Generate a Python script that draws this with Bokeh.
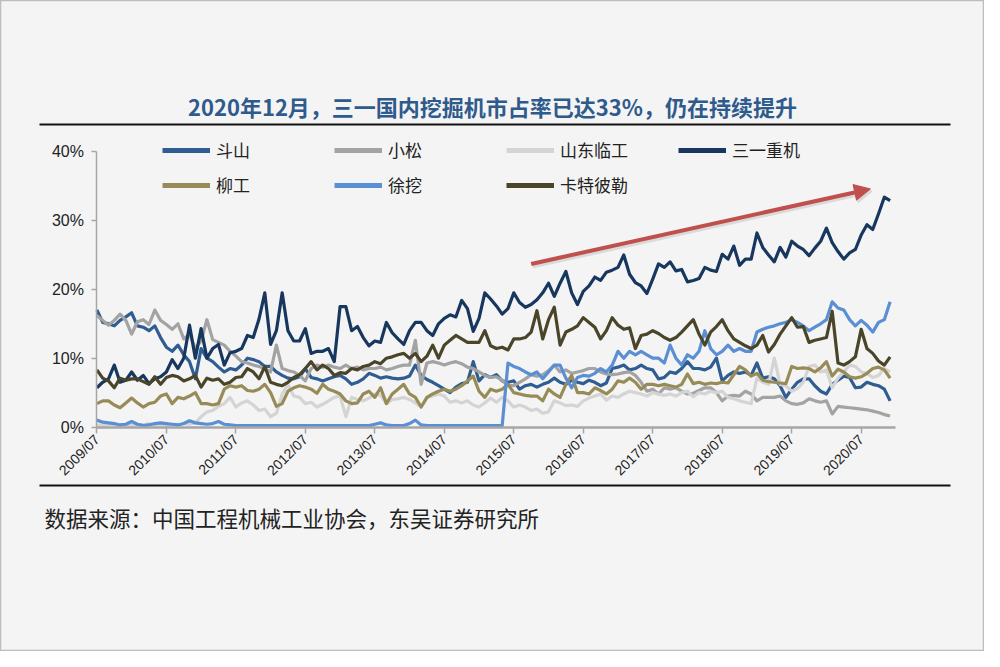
from bokeh.plotting import figure
from bokeh.models import Range1d, FixedTicker, Legend, LegendItem, Arrow, NormalHead, Label
from bokeh.embed import file_html
from bokeh.resources import INLINE

# ---------------- data (market share, %; monthly 2009/07 .. 2020/12) ----------------
names = ["斗山", "小松", "山东临工", "三一重机", "柳工", "徐挖", "卡特彼勒"]

doosan = [17, 15.2, 15, 14.7, 15.5, 16, 16.6, 14.7, 14.5, 14, 14.7, 13, 11.6, 11, 11.9, 10.5, 9.5, 7, 11.4, 10,
          9.5, 8.7, 8, 8.5, 8.3, 9, 10, 9.8, 9.5, 8.8, 8.8, 8, 7.5, 7.1, 7, 7.3, 8.5, 7.2, 7, 6.7,
          7, 7.3, 7.5, 7, 6.2, 6.5, 7, 7.8, 7.5, 7.1, 7.3, 7.1, 7, 7.1, 7.4, 9, 7.5, 6.9, 6.5, 6,
          5.5, 5, 5.8, 6.3, 6.5, 9.5, 6.7, 7.6, 7.2, 7.6, 6.7, 6.5, 6.7, 5.5, 6, 6.2, 5.8, 6.2, 6.5, 7.1,
          6.5, 6.2, 6.8, 6.5, 6.3, 6.8, 6.5, 6, 6.4, 8.5, 8.7, 9, 8.3, 8.5, 9, 8.5, 8.3, 7, 7.2, 8,
          7.8, 8.5, 9.5, 8.5, 8.5, 8.3, 8.7, 10, 6.7, 7.5, 8, 7.8, 8, 7.5, 9.3, 7.1, 7.3, 7, 6, 4.3,
          5.5, 6.5, 7, 7, 6, 5.2, 4.8, 6.2, 6.8, 7.4, 7.2, 5.7, 5.8, 6.5, 6.2, 6, 5.5, 3.8]

komatsu = [16.2, 15.5, 14.8, 15.5, 16.4, 15.5, 13.5, 15.3, 15.6, 14.9, 17, 15.5, 14.9, 14.2, 15, 12.8, 13.5, 11.4, 12.5, 15.6,
           12.7, 12.3, 11.9, 11, 10.3, 9.5, 9.3, 9, 8.8, 8.5, 8, 11.9, 8.5, 8.2, 8, 7.5, 6.7, 8.5, 9, 8.7,
           9, 8.7, 8.5, 9, 8.5, 8.7, 8.3, 8.5, 8.5, 8.7, 8.3, 8.5, 8.8, 9, 9, 12.6, 6.2, 9.3, 9.5, 9.3,
           9, 9.3, 9.5, 9.2, 8.7, 8.5, 8, 7.5, 7.2, 7.3, 6.8, 6, 6, 6.5, 7, 7.6, 7.4, 7.6, 8.2, 9,
           8, 8.3, 7.8, 8, 8.2, 8.5, 8.5, 8, 7.7, 7.6, 7.7, 7.9, 8, 7.5, 6.5, 5.2, 5.5, 4.8, 5.7, 5.5,
           5.7, 5.2, 4.8, 4.9, 5.3, 5.7, 5.7, 5, 3.8, 4.5, 4.6, 4.5, 5.2, 4.8, 3.8, 4.3, 4.3, 4.3, 4.5, 3.8,
           3.4, 3.3, 3.5, 4.1, 3.8, 3.6, 3.8, 1.9, 3, 2.9, 2.8, 2.7, 2.6, 2.5, 2.3, 2.1, 1.8, 1.6]

sdlg = [0.3, 0.2, 0.4, 0.3, 0.2, 0.3, 0.2, 0.4, 0.3, 0.5, 0.3, 0.4, 0.2, 0.3, 0.3, 0.5, 0.4, 0.6, 1.5, 2.2,
        2.4, 3, 3.4, 4.3, 2.9, 3.5, 3.8, 3.2, 2.4, 2.6, 1.5, 2, 4.8, 6.2, 4.5, 4.3, 3.4, 3.6, 2.9, 3.3,
        3.8, 4.3, 4.5, 1.5, 4.3, 4, 3.8, 4.2, 4.8, 4.6, 3.4, 4, 4.1, 4.3, 4, 3.5, 2.9, 4.2, 4.5, 4.8,
        4.5, 3.6, 3.8, 3.5, 3.8, 3.2, 2.9, 3.5, 4.2, 3.6, 4.3, 3.8, 2.9, 3.2, 2.9, 2.4, 2.6, 2, 2.2, 3.8,
        3.5, 3.1, 3.2, 3, 3.8, 4.2, 4.5, 4.8, 3.9, 4.5, 4.3, 4.8, 5.2, 5, 4.8, 4.5, 5, 4.8, 4.6, 4.8,
        4.5, 5, 5.2, 4.4, 5, 4.8, 5.2, 5, 5.2, 4.3, 4.1, 3.8, 3.6, 3.4, 7.1, 6.5, 6.2, 10, 6.2, 6,
        5.2, 5.6, 6.5, 8.8, 9, 8, 8.3, 5.7, 7.1, 8, 9, 8.8, 8, 7.8, 7.2, 7.5, 8.5, 8]

sany = [5.7, 6.5, 7, 9, 6.5, 6.8, 8, 6.8, 7.5, 6.3, 7, 7.3, 8, 9.8, 8.5, 10, 14.8, 10, 14.3, 10,
        11.4, 12, 9, 10.8, 11, 11.4, 13.3, 13, 15.7, 19.5, 12, 14, 19.5, 14, 12.5, 12.5, 14.3, 10.7, 11, 11,
        11.4, 9.5, 17.5, 17.5, 14, 14.6, 13, 11.8, 12.5, 12.3, 15.2, 13.7, 12.8, 12, 14, 15.2, 15.2, 14, 13.3, 15,
        15.8, 16.3, 16, 18.4, 17.2, 13.9, 15.8, 19.5, 18.6, 17.6, 16.4, 17.2, 19.5, 18.1, 17.4, 17.8, 18.5, 19.5, 20.9, 19,
        20.9, 22.6, 19.5, 17.8, 19.7, 20.5, 21.8, 21.3, 22.5, 22.8, 23.2, 25, 22.2, 21, 20.5, 19.4, 21.5, 23.7, 23.2, 24,
        22.7, 22.9, 21.1, 21.3, 21.6, 23.2, 22.8, 22.6, 25.1, 24.4, 26.3, 23.5, 24.4, 24.4, 28.2, 26.1, 25, 24, 26.1, 24.7,
        27, 26.3, 25.8, 24.9, 26, 27, 28.9, 26.8, 25.5, 24.4, 25.3, 25.8, 27.9, 29.4, 28.7, 31, 33.4, 32.9]

liugong = [3.4, 3.8, 3.8, 3.2, 2.8, 3.5, 4.2, 3.5, 2.9, 3.4, 3.6, 4.5, 4.8, 3.4, 4.3, 4.1, 4.5, 5, 3.4, 3.4,
           3.2, 3.4, 5.5, 6, 5.8, 6, 5.3, 5.2, 5.5, 6.2, 5, 3, 3.4, 5.2, 5.7, 6, 5.8, 5.5, 4.9, 6.2,
           5.5, 5.2, 4.8, 3.8, 3.4, 3.5, 4.8, 5.2, 4.3, 5.7, 3.4, 4.8, 5.5, 6.2, 4.8, 4.3, 2.9, 4.3, 4.8, 5.2,
           5.5, 5.2, 5.5, 6, 6.7, 7.4, 5.2, 4.3, 5.5, 5.2, 5.5, 6.2, 5, 4.8, 4.6, 4.5, 4.5, 3.8, 5.5, 4.8,
           4.3, 6.2, 7.5, 5, 5, 4.8, 5.7, 5.3, 4.8, 5.5, 6.7, 6.5, 7.1, 6.5, 5.5, 6.2, 6.2, 6, 6.2, 6,
           5.8, 6.2, 7.7, 6.3, 6.5, 6.2, 6.4, 6.3, 6.5, 6.4, 7.6, 8.8, 8.3, 7.4, 7.8, 6.8, 6.6, 6.5, 6.4, 6.3,
           8.8, 8.5, 8.6, 8.5, 8, 8.6, 9.5, 7.4, 8.4, 8, 7.3, 7.1, 7.3, 7.8, 8.5, 8.7, 8.3, 7.1]

xcmg = [1, 0.7, 0.6, 0.5, 0.3, 0.4, 0.8, 0.4, 0.2, 0.3, 0.5, 0.6, 0.5, 0.4, 0.3, 0.5, 0.9, 0.6, 0.5, 0.4,
        0.5, 0.8, 0.4, 0.3, 0.2, 0.2, 0.2, 0.2, 0.2, 0.2, 0.2, 0.2, 0.2, 0.2, 0.2, 0.2, 0.2, 0.2, 0.2, 0.2,
        0.2, 0.2, 0.2, 0.2, 0.2, 0.2, 0.2, 0.2, 0.4, 0.6, 0.3, 0.2, 0.2, 0.2, 0.5, 1.0, 0.3, 0.2, 0.2, 0.2,
        0.2, 0.2, 0.2, 0.2, 0.2, 0.2, 0.2, 0.2, 0.2, 0.2, 0.2, 9.3, 8.8, 8.5, 8, 7.6, 8, 7, 8, 9,
        9, 7.1, 5.7, 7.2, 7.5, 7.4, 7.8, 8.5, 8, 9, 11, 10, 11, 10.5, 11, 10.5, 10, 10, 9.3, 11.9,
        10, 9, 10.5, 10, 11, 14, 11.4, 10.5, 11, 11.9, 11, 11.4, 11, 11, 13.8, 14.2, 14.5, 14.7, 15, 15.2,
        15.6, 15.2, 14.7, 14, 14.5, 15, 15.6, 18.2, 17.3, 17, 15.6, 14.7, 15.5, 14.8, 13.8, 15.2, 15.6, 18.2]

cat = [8.3, 7.1, 6.7, 5.7, 7.1, 6.8, 7, 7, 6.6, 6.2, 7.3, 6.2, 7.2, 7.5, 7.3, 6.7, 7, 7.5, 5.8, 7.1,
       6.8, 7, 6.2, 6.5, 7.2, 7.3, 8.5, 8, 7, 8.8, 6.5, 6.2, 6, 6.5, 7.2, 7.6, 8.5, 9.5, 8.3, 9,
       8.5, 7.5, 7.9, 7.8, 8.5, 8.3, 8.8, 9, 9.5, 9.2, 10, 10.2, 10.5, 10.7, 10, 10.7, 9.5, 10.3, 11.9, 10,
       11.9, 12.6, 13.3, 12.8, 12.3, 12.3, 12.3, 14, 11.8, 11.4, 11.6, 11.2, 12.8, 12.8, 13, 13.8, 16.9, 12.8, 15.6, 17.4,
       11.9, 13.8, 14.2, 14.7, 15.9, 15.2, 14.5, 12.8, 14, 15.9, 14.8, 14.2, 14.4, 11.4, 13.3, 13.5, 14, 13.6, 13, 12.6,
       13, 13.8, 14.7, 15.6, 13.5, 11.9, 13.8, 14.6, 15.6, 14, 12.8, 12.3, 11.8, 11.4, 11.9, 13.3, 10.9, 12, 13.5, 14.7,
       15.9, 14.5, 14.6, 12.3, 12.6, 12.8, 13, 16.8, 9.3, 9, 9.5, 10.2, 14.2, 11.4, 10.7, 9.6, 9, 10.2]

series = [doosan, komatsu, sdlg, sany, liugong, xcmg, cat]
colors = ["#2F5C91", "#A3A3A3", "#D4D4D4", "#17375E", "#978C58", "#5B8FD3", "#4A4529"]

x_tick_pos = [0, 12, 24, 36, 48, 60, 72, 84, 96, 108, 120, 132]
x_tick_labels = ["2009/07", "2010/07", "2011/07", "2012/07", "2013/07", "2014/07",
                 "2015/07", "2016/07", "2017/07", "2018/07", "2019/07", "2020/07"]
y_ticks = [0, 10, 20, 30, 40]
y_tick_labels = ["0%", "10%", "20%", "30%", "40%"]

title_text = "2020年12月，三一国内挖掘机市占率已达33%，仍在持续提升"
source_text = "数据来源：中国工程机械工业协会，东吴证券研究所"

# trend arrow in data units (month index, share %)
arrow_start = (75, 23.7)
arrow_end = (133.6, 34.6)

# ---------------- layout geometry (canvas pixels) ----------------
W, H = 984, 651
N_MONTHS = 138
PX_X0, PX_X1 = 96.4, 895.4      # month 0 / month 138
PX_Y0, PX_Y40 = 426.5, 151.3    # 0% / 40%
a = (PX_X1 - PX_X0) / N_MONTHS
b = (PX_Y0 - PX_Y40) / 40.0
x_start, x_end = -PX_X0 / a, N_MONTHS + (W - PX_X1) / a
y_start, y_end = -(H - PX_Y0) / b, 40 + PX_Y40 / b


def X(px):
    return x_start + px / a


def Y(py):
    return y_end - py / b


BG = "#F4F4F4"
CJK = "Noto Sans CJK SC"

p = figure(width=W, height=H, x_range=Range1d(x_start, x_end), y_range=Range1d(y_start, y_end),
           toolbar_location=None, output_backend="svg", min_border=0)
p.background_fill_color = BG
p.border_fill_color = BG
p.outline_line_color = "#BDBDBD"
p.outline_line_width = 1.5
p.grid.visible = False

xs = list(range(len(sany)))
for vals, col in zip(series, colors):
    p.line(xs, vals, line_color=col, line_width=3.2, line_join="round")

# axes drawn through the plot's own scales, pinned at month 0 / 0%
p.xaxis.fixed_location = 0
p.xaxis.bounds = (0, N_MONTHS)
p.xaxis.ticker = FixedTicker(ticks=x_tick_pos)
p.xaxis.major_label_overrides = dict(zip(x_tick_pos, x_tick_labels))
p.xaxis.major_label_orientation = 0.785398
p.xaxis.minor_tick_line_color = None
p.xaxis.axis_line_color = "#A6A6A6"
p.xaxis.axis_line_width = 2.5
p.xaxis.major_tick_line_color = "#A6A6A6"
p.xaxis.major_tick_line_width = 1.5
p.xaxis.major_tick_out = 6
p.xaxis.major_tick_in = 0
p.xaxis.major_label_standoff = 4
p.xaxis.major_label_text_font = "Liberation Sans"
p.xaxis.major_label_text_font_size = "14px"
p.xaxis.major_label_text_color = "#222222"

p.yaxis.fixed_location = 0
p.yaxis.bounds = (0, 40)
p.yaxis.ticker = FixedTicker(ticks=y_ticks)
p.yaxis.major_label_overrides = dict(zip(y_ticks, y_tick_labels))
p.yaxis.minor_tick_line_color = None
p.yaxis.axis_line_color = "#A6A6A6"
p.yaxis.axis_line_width = 1.5
p.yaxis.major_tick_line_color = "#A6A6A6"
p.yaxis.major_tick_line_width = 1.5
p.yaxis.major_tick_out = 5
p.yaxis.major_tick_in = 0
p.yaxis.major_label_standoff = 8
p.yaxis.major_label_text_font = "Liberation Sans"
p.yaxis.major_label_text_font_size = "16px"
p.yaxis.major_label_text_color = "#222222"

# faint shadow + trend arrow
p.add_layout(Arrow(x_start=arrow_start[0] + 0.3, y_start=arrow_start[1] - 0.35,
                   x_end=arrow_end[0] + 0.3, y_end=arrow_end[1] - 0.35,
                   line_color="#C8C8C8", line_width=4, line_alpha=0.6,
                   end=NormalHead(size=16, fill_color="#C8C8C8", line_color="#C8C8C8",
                                  fill_alpha=0.6, line_alpha=0.6)))
p.add_layout(Arrow(x_start=arrow_start[0], y_start=arrow_start[1],
                   x_end=arrow_end[0], y_end=arrow_end[1],
                   line_color="#C0504D", line_width=4,
                   end=NormalHead(size=16, fill_color="#C0504D", line_color="#C0504D")))

# title, rules and source
p.add_layout(Label(x=X(492), y=Y(105.4), text=title_text, text_align="center", text_baseline="middle",
                   text_font=CJK, text_font_style="bold", text_font_size="22px",
                   text_color="#2E5A8C"))
p.segment(x0=[X(39), X(39)], y0=[Y(124), Y(485)], x1=[X(950), X(950)], y1=[Y(124), Y(485)],
          line_color="#111111", line_width=2)
p.add_layout(Label(x=X(44), y=Y(517), text=source_text, text_align="left", text_baseline="middle",
                   text_font=CJK, text_font_size="21.5px", text_color="#222222"))

# legend samples (thicker strokes than the data lines)
nan = float("nan")
samples = [p.line([nan], [nan], line_color=c, line_width=5) for c in colors]
rows = [(0, 4, H - 154 - 8), (4, 7, H - 189 - 8)]
for i0, i1, ypos in rows:
    leg = Legend(items=[LegendItem(label=names[i], renderers=[samples[i]]) for i in range(i0, i1)],
                 orientation="horizontal", location=(162, ypos),
                 glyph_width=48, glyph_height=16, label_height=16, label_standoff=6,
                 label_width=118, spacing=0, padding=0, margin=0,
                 border_line_color=None, background_fill_alpha=0,
                 label_text_font=CJK, label_text_font_size="17px", label_text_color="#222222")
    p.add_layout(leg)

open("out.html", "w").write(file_html(p, INLINE))
